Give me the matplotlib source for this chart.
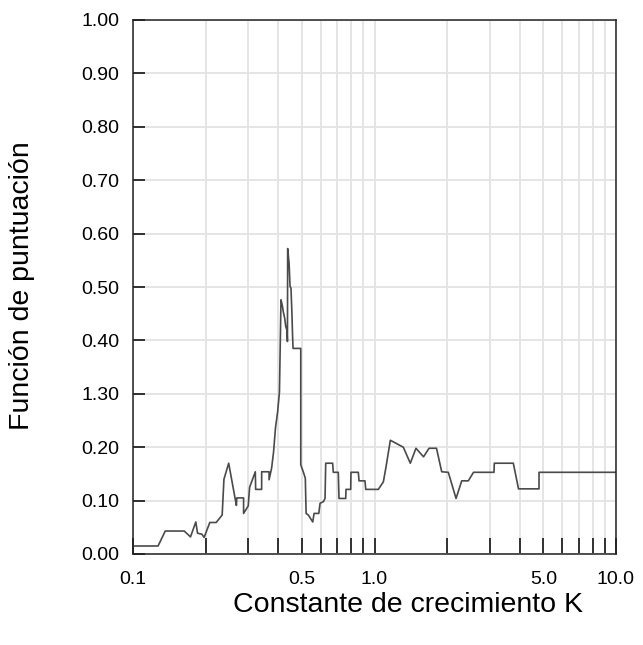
import numpy as np
import matplotlib
matplotlib.use("Agg")
import matplotlib.pyplot as plt
from matplotlib.ticker import FixedLocator, NullFormatter

# growth constant K (log axis) and score function
k = [0.100, 0.127, 0.136, 0.163, 0.173, 0.182, 0.185, 0.193, 0.197, 0.208,
     0.221, 0.234, 0.238, 0.249, 0.265, 0.268, 0.269, 0.287, 0.287, 0.300,
     0.304, 0.321, 0.322, 0.341, 0.341, 0.366, 0.366, 0.375, 0.382, 0.389,
     0.397, 0.404, 0.410, 0.415, 0.419, 0.425, 0.429, 0.434, 0.436, 0.437,
     0.443, 0.447, 0.451, 0.455, 0.458, 0.460, 0.495, 0.495, 0.507, 0.517,
     0.521, 0.532, 0.555, 0.562, 0.588, 0.595, 0.614, 0.624, 0.628, 0.654,
     0.671, 0.675, 0.708, 0.713, 0.760, 0.762, 0.797, 0.799, 0.857, 0.863,
     0.913, 0.920, 1.037, 1.088, 1.116, 1.163, 1.316, 1.407, 1.485, 1.596,
     1.682, 1.806, 1.898, 2.021, 2.176, 2.297, 2.446, 2.570, 3.124, 3.134,
     3.757, 3.947, 4.800, 4.800, 10.0]
score = [0.015, 0.015, 0.043, 0.043, 0.032, 0.060, 0.039, 0.037, 0.031, 0.059,
         0.059, 0.073, 0.140, 0.170, 0.103, 0.091, 0.105, 0.105, 0.076, 0.090,
         0.125, 0.154, 0.121, 0.121, 0.154, 0.154, 0.139, 0.161, 0.191, 0.236,
         0.266, 0.303, 0.476, 0.466, 0.454, 0.441, 0.426, 0.419, 0.398, 0.572,
         0.544, 0.501, 0.498, 0.451, 0.407, 0.385, 0.385, 0.167, 0.154, 0.142,
         0.076, 0.073, 0.060, 0.076, 0.076, 0.095, 0.098, 0.104, 0.170, 0.170,
         0.170, 0.153, 0.153, 0.104, 0.104, 0.121, 0.121, 0.153, 0.153, 0.137,
         0.137, 0.121, 0.121, 0.135, 0.163, 0.213, 0.200, 0.170, 0.198, 0.182,
         0.198, 0.198, 0.154, 0.153, 0.104, 0.137, 0.137, 0.153, 0.153, 0.170,
         0.170, 0.122, 0.122, 0.153, 0.153]
assert len(k) == len(score), f"{len(k)} vs {len(score)}"

x_major = [0.1, 0.5, 1.0, 5.0, 10.0]
x_major_labels = ["0.1", "0.5", "1.0", "5.0", "10.0"]
x_minor = [0.2, 0.3, 0.4, 0.6, 0.7, 0.8, 0.9, 2, 3, 4, 6, 7, 8, 9]
y_ticks = [0.0, 0.1, 0.2, 0.3, 0.4, 0.5, 0.6, 0.7, 0.8, 0.9, 1.0]
y_labels = ["0.00", "0.10", "0.20", "1.30", "0.40", "0.50", "0.60",
            "0.70", "0.80", "0.90", "1.00"]

plt.rcParams["font.family"] = ["Liberation Sans", "DejaVu Sans"]

fig = plt.figure(figsize=(6.43, 6.45), dpi=100)
ax = fig.add_axes([133 / 643, 1 - 554 / 645, (616 - 133) / 643, (554 - 20) / 645])

ax.plot(k, score, "-", color="#4a4a4a", lw=1.2)

ax.set_xscale("log")
ax.set_xlim(0.1, 10)
ax.set_ylim(0, 1.0)

ax.xaxis.set_major_locator(FixedLocator(x_major))
ax.set_xticklabels(x_major_labels)
ax.xaxis.set_minor_locator(FixedLocator(x_minor))
ax.xaxis.set_minor_formatter(NullFormatter())
ax.set_yticks(y_ticks)
ax.set_yticklabels(y_labels)

ax.grid(True, which="both", color="#e3e3e3", lw=1.3)
ax.set_axisbelow(True)
ax.tick_params(axis="x", which="both", direction="in", length=11.5, width=1.1,
               labelsize=14, pad=12, color="black")
ax.tick_params(axis="y", direction="in", length=8.5, width=1.1,
               labelsize=14, pad=10, color="black")
for s in ax.spines.values():
    s.set_linewidth(1.1)
    s.set_color("#222222")

fig.text(408 / 643, 1 - 605 / 645, "Constante de crecimiento K",
         ha="center", va="center", fontsize=20.5)
fig.text(22 / 643, 1 - 286 / 645, "Función de puntuación",
         ha="center", va="center", rotation=90, fontsize=20.5)

fig.savefig("out.png", dpi=100)
